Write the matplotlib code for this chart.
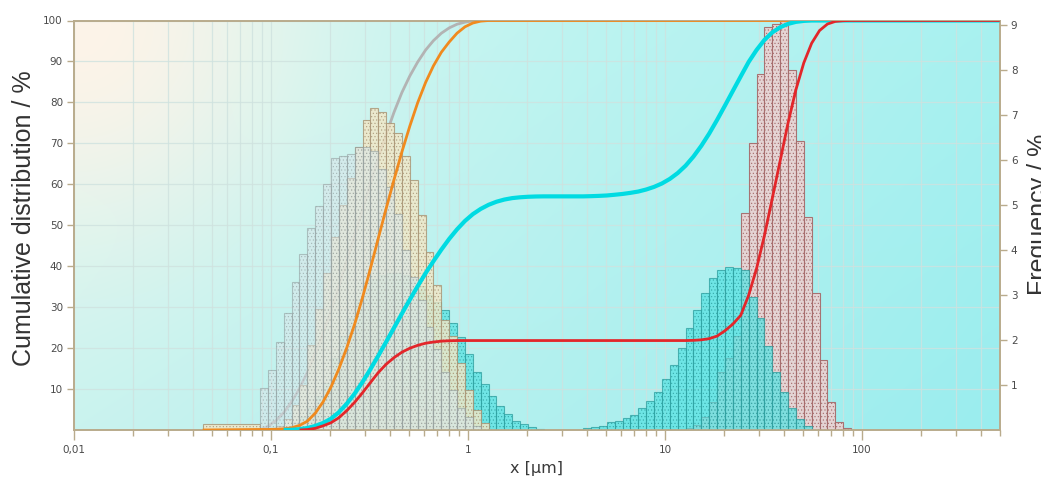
import numpy as np
import matplotlib
matplotlib.use('Agg')
import matplotlib.pyplot as plt
from matplotlib.ticker import FixedLocator, FixedFormatter, NullFormatter, LogLocator

# ---------------- data ----------------
first_bin_left = 0.045      # left edge of the wide first class (µm)
grid_start = 0.088          # left edge of the regular classes (µm)
bins_per_decade = 25
n_grid_bins = 78

x_limits = (0.01, 500)
x_tick_values = [0.01, 0.1, 1, 10, 100]
x_tick_labels = ['0,01', '0,1', '1', '10', '100']
cum_ticks = [10, 20, 30, 40, 50, 60, 70, 80, 90, 100]
freq_ticks = [1, 2, 3, 4, 5, 6, 7, 8, 9]
freq_max = 9.11

# frequency per class (%), first value sits in the given regular class index
gray_start = 0
gray_freq = [0.93, 1.33, 1.96, 2.6, 3.29, 3.91, 4.49, 4.98, 5.47, 6.04, 6.09, 6.15,
             6.3, 6.3, 6.2, 5.8, 5.4, 4.8, 4.0, 3.4, 2.9, 2.3, 1.8, 1.3, 0.9, 0.5, 0.3, 0.1]

orange_wide_bin = 0.13
orange_start = 1
orange_freq = [0.05, 0.1, 0.25, 0.55, 1.0, 1.9, 2.7, 3.5, 4.3, 5.0, 5.6, 6.3, 6.89, 7.16,
               7.07, 6.84, 6.6, 6.09, 5.56, 4.78, 3.96, 3.22, 2.44, 2.1, 1.5, 0.9, 0.45, 0.15]

cyan_mode1_start = 3
cyan_mode1 = [0.05, 0.15, 0.3, 0.5, 0.75, 1.05, 1.6, 2.1, 2.5, 2.9, 3.15, 3.35, 3.45, 3.5,
              3.5, 3.45, 3.35, 3.2, 3.0, 2.85, 2.67, 2.38, 2.07, 1.69, 1.3, 1.02, 0.76,
              0.54, 0.36, 0.2, 0.13, 0.07, 0.03]
cyan_mode2_start = 41
cyan_mode2 = [0.05, 0.07, 0.1, 0.18, 0.2, 0.27, 0.33, 0.5, 0.65, 0.85, 1.13, 1.45, 1.82,
              2.27, 2.67, 3.04, 3.38, 3.56, 3.63, 3.6, 3.56, 2.96, 2.5, 1.87, 1.28, 0.84,
              0.5, 0.24, 0.1]

red_mode1_start = 5
red_mode1 = [0.1, 0.3, 0.6, 0.75, 1.2, 1.7, 2.0, 2.3, 2.45, 2.4, 2.0, 1.6, 1.3, 0.95, 0.7,
             0.5, 0.3, 0.2, 0.1, 0.05]
red_mode2_start = 54
red_mode2 = [0.05, 0.12, 0.28, 0.63, 1.28, 1.6, 2.1, 4.82, 6.38, 7.93, 8.96, 9.04, 9.1,
             8.0, 6.44, 4.74, 3.04, 1.56, 0.63, 0.18, 0.04]

x_label = 'x [µm]'
left_label = 'Cumulative distribution / %'
right_label = 'Frequency / %'

# ---------------- build class arrays ----------------
edges = np.concatenate([[first_bin_left],
                        grid_start * 10 ** (np.arange(n_grid_bins + 1) / bins_per_decade)])
nb = len(edges) - 1


def series(parts, wide=0.0):
    v = np.zeros(nb)
    v[0] = wide
    for start, vals in parts:
        v[1 + start:1 + start + len(vals)] += np.asarray(vals)
    return v


gray = series([(gray_start, gray_freq)])
orange = series([(orange_start, orange_freq)], orange_wide_bin)
cyan = series([(cyan_mode1_start, cyan_mode1), (cyan_mode2_start, cyan_mode2)])
red = series([(red_mode1_start, red_mode1), (red_mode2_start, red_mode2)])


def cumulative(v):
    c = np.cumsum(v)
    c = c / c[-1] * 100
    first = np.argmax(v > 0)
    xs = np.concatenate([[edges[first]], edges[first + 1:], [x_limits[1]]])
    ys = np.concatenate([[0], c[first:], [100]])
    return xs, ys


# ---------------- figure ----------------
W, H = 1041, 479
fig = plt.figure(figsize=(W / 100, H / 100), dpi=100)
fig.patch.set_facecolor('white')
pos = [74 / W, 49 / H, 925.7 / W, 409.5 / H]

# background gradient: peach glow in the top-left corner, cyan elsewhere
bg = fig.add_axes(pos, zorder=-1)
ny, nx = 80, 200
yy, xx = np.mgrid[0:1:ny * 1j, 0:1:nx * 1j]   # yy = 0 at top
base_l = np.array([214, 247, 241]) / 255
base_r = np.array([168, 241, 240]) / 255
base = base_l[None, None] * (1 - xx)[..., None] + base_r[None, None] * xx[..., None]
base = base - (yy[..., None] * np.array([14, 4, 2]) / 255)
peach = np.array([253, 243, 232]) / 255
d = np.sqrt((xx * 2.26) ** 2 + yy ** 2)
w = np.clip(np.exp(-(d / 0.55) ** 2), 0, 1)[..., None]
img = np.clip(base * (1 - w) + peach[None, None] * w, 0, 1)
bg.imshow(img, aspect='auto', extent=(0, 1, 0, 1), interpolation='bilinear')
bg.set_axis_off()

ax = fig.add_axes(pos)
ax.patch.set_visible(False)
ax.set_xscale('log')
ax.set_xlim(*x_limits)
ax.set_ylim(0, 100)

spine_c = '#b9ab8c'
grid_c = '#cfe2df'

ax.xaxis.set_major_locator(FixedLocator(x_tick_values))
ax.xaxis.set_major_formatter(FixedFormatter(x_tick_labels))
ax.xaxis.set_minor_locator(LogLocator(base=10, subs=np.arange(2, 10)))
ax.xaxis.set_minor_formatter(NullFormatter())
ax.yaxis.set_major_locator(FixedLocator(cum_ticks))
ax.grid(True, which='both', axis='x', color=grid_c, lw=0.9, alpha=0.8)
ax.grid(True, which='major', axis='y', color=grid_c, lw=0.9, alpha=0.8)
ax.set_axisbelow(True)

ax.tick_params(axis='x', which='major', length=7, width=1, color=spine_c,
               labelsize=7.5, labelcolor='#4a4a4a', pad=4)
ax.tick_params(axis='x', which='minor', length=4, width=1, color=spine_c)
ax.tick_params(axis='y', length=5, width=1, color=spine_c, labelsize=7.5,
               labelcolor='#4a4a4a', pad=3)
for s in ax.spines.values():
    s.set_color(spine_c)
    s.set_linewidth(1.2)

# gray cumulative (drawn below the bars)
gx, gy = cumulative(gray)
ax.plot(gx, gy, color='#b3b3b3', lw=2, zorder=3, solid_capstyle='butt')

# histograms on the frequency axis
ax2 = ax.twinx()
ax2.set_ylim(0, freq_max)
ax2.yaxis.set_major_locator(FixedLocator(freq_ticks))
ax2.tick_params(axis='y', length=5, width=1, color=spine_c, labelsize=7.5,
                labelcolor='#4a4a4a', pad=3)
for s in ax2.spines.values():
    s.set_color(spine_c)
    s.set_linewidth(1.2)

plt.rcParams['hatch.linewidth'] = 0.45
widths = np.diff(edges)
styles = [
    (red, '#ead2d2', '#a56a6a', 0.92),
    (cyan, '#55e2e2', '#2a9c9c', 0.72),
    (orange, '#f3e7c6', '#a89474', 0.8),
    (gray, '#d9e6ea', '#8c9999', 0.55),
]
for vals, fc, ec, a in styles:
    m = vals > 0
    ax2.bar(edges[:-1][m], vals[m], width=widths[m], align='edge', facecolor=fc,
            edgecolor=ec, linewidth=0.8, hatch='.....', alpha=a, zorder=2)

# other cumulative curves on top
ax3 = ax.twinx()
ax3.set_ylim(0, 100)
ax3.set_axis_off()
for vals, col, lw in [(orange, '#f08a1e', 2.0), (cyan, '#00dbe2', 3.0), (red, '#e3262a', 2.0)]:
    cx, cy = cumulative(vals)
    ax3.plot(cx, cy, color=col, lw=lw, solid_capstyle='butt')

# labels
fig.text(537 / W, 1 - 469 / H, x_label, ha='center', va='center', fontsize=11.5,
         color='#3a3a3a', family='DejaVu Sans')
fig.text(24 / W, 1 - 218 / H, left_label, ha='center', va='center', rotation=90,
         fontsize=18, color='#333333', family='Liberation Sans')
fig.text(1039 / W, 1 - 214 / H, right_label, ha='center', va='center', rotation=90,
         fontsize=18, color='#333333', family='Liberation Sans')

fig.savefig('out.png', dpi=100)
